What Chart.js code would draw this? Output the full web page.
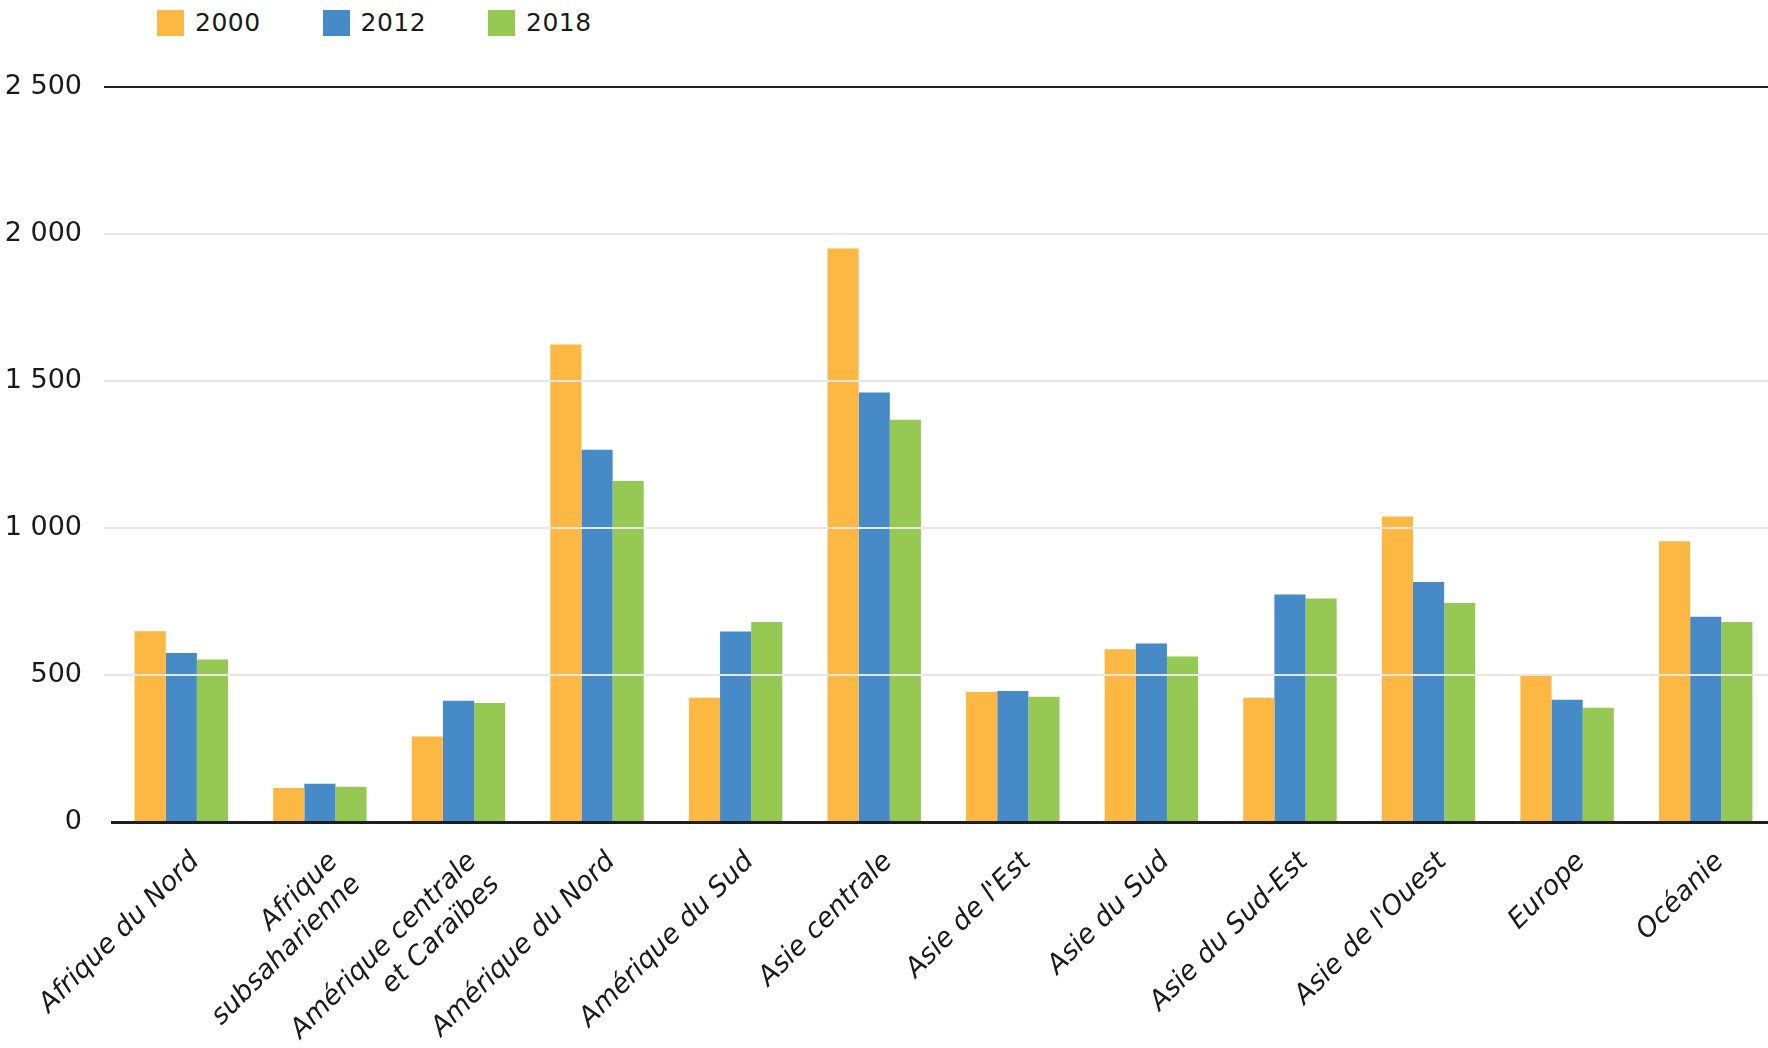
<!DOCTYPE html>
<html>
<head>
<meta charset="utf-8">
<script src="https://cdn.jsdelivr.net/npm/chart.js@4.4.1/dist/chart.umd.min.js"></script>
<style>
  html, body { margin: 0; padding: 0; background: #fff; overflow: hidden; }
  body { width: 1768px; height: 1048px; position: relative; }
  #legend { position: absolute; left: 157px; top: 8px; display: flex; font-family: "DejaVu Sans", sans-serif; }
  #legend .item { width: 165.5px; display: flex; align-items: center; }
  #legend .box { width: 27px; height: 26px; margin-right: 11px; }
  #legend .txt { font-size: 25px; letter-spacing: 0.5px; color: #1a1a1a; }
  #wrap { position: absolute; left: 0; top: 0; width: 1775px; height: 1048px; }
</style>
</head>
<body>
<div id="legend"></div>
<div id="wrap"><canvas id="regionChart"></canvas></div>
<script>
// categories and values
const categories = [
  'Afrique du Nord',
  ['Afrique', 'subsaharienne'],
  ['Amérique centrale', 'et Caraïbes'],
  'Amérique du Nord',
  'Amérique du Sud',
  'Asie centrale',
  "Asie de l'Est",
  'Asie du Sud',
  'Asie du Sud-Est',
  "Asie de l'Ouest",
  'Europe',
  'Océanie'
];
const seriesNames = ['2000', '2012', '2018'];
const values2000 = [649, 116, 291, 1624, 423, 1951, 442, 588, 423, 1039, 497, 955];
const values2012 = [575, 130, 412, 1266, 648, 1461, 446, 607, 774, 816, 416, 698];
const values2018 = [553, 120, 405, 1160, 680, 1368, 426, 563, 760, 745, 389, 680];
const yTicks = [0, 500, 1000, 1500, 2000, 2500];
const colors = ['#FDB743', '#468AC8', '#96C954'];

const seriesValues = [values2000, values2012, values2018];

// legend (html)
const legendBox = document.getElementById('legend');
seriesNames.forEach((name, i) => {
  const item = document.createElement('div');
  item.className = 'item';
  item.innerHTML = `<span class="box" style="background:${colors[i]}"></span><span class="txt">${name}</span>`;
  legendBox.appendChild(item);
});

function fmt(v) {
  return String(v).replace(/\B(?=(\d{3})+(?!\d))/g, ' ');
}

const ctx = document.getElementById('regionChart');

new Chart(ctx, {
  type: 'bar',
  data: {
    labels: categories,
    datasets: seriesNames.map((name, i) => ({
      label: name,
      data: seriesValues[i],
      backgroundColor: colors[i],
      borderWidth: 0,
      categoryPercentage: 0.674,
      barPercentage: 1.0
    }))
  },
  options: {
    responsive: true,
    maintainAspectRatio: false,
    animation: false,
    layout: { padding: { top: 87, left: 6, right: 0, bottom: 0 } },
    plugins: {
      legend: { display: false },
      tooltip: { enabled: false }
    },
    scales: {
      x: {
        grid: { display: false, drawTicks: false },
        border: { display: true, color: '#1f1f1f', width: 3, z: 2 },
        ticks: {
          autoSkip: false,
          maxRotation: 45,
          minRotation: 45,
          padding: 24,
          labelOffset: 14,
          color: '#1a1a1a',
          font: { family: 'DejaVu Sans', size: 27, style: 'italic' }
        },
        afterFit(scale) { scale.height = 1048 - 822; }
      },
      y: {
        min: 0,
        max: 2500,
        afterBuildTicks(scale) {
          scale.ticks = yTicks.map(v => ({ value: v }));
        },
        afterFit(scale) { scale.width = 106; },
        border: { display: false },
        grid: {
          z: 1,
          tickLength: 8,
          lineWidth: 2,
          color: (c) => {
            if (c.tick && c.tick.value === 2500) return '#1f1f1f';
            if (c.tick && c.tick.value === 0) return 'rgba(0,0,0,0)';
            return '#e6e6e6';
          }
        },
        ticks: {
          padding: 22,
          color: '#1a1a1a',
          font: { family: 'DejaVu Sans', size: 27 },
          callback: (v) => fmt(v)
        }
      }
    }
  }
});
</script>
</body>
</html>
